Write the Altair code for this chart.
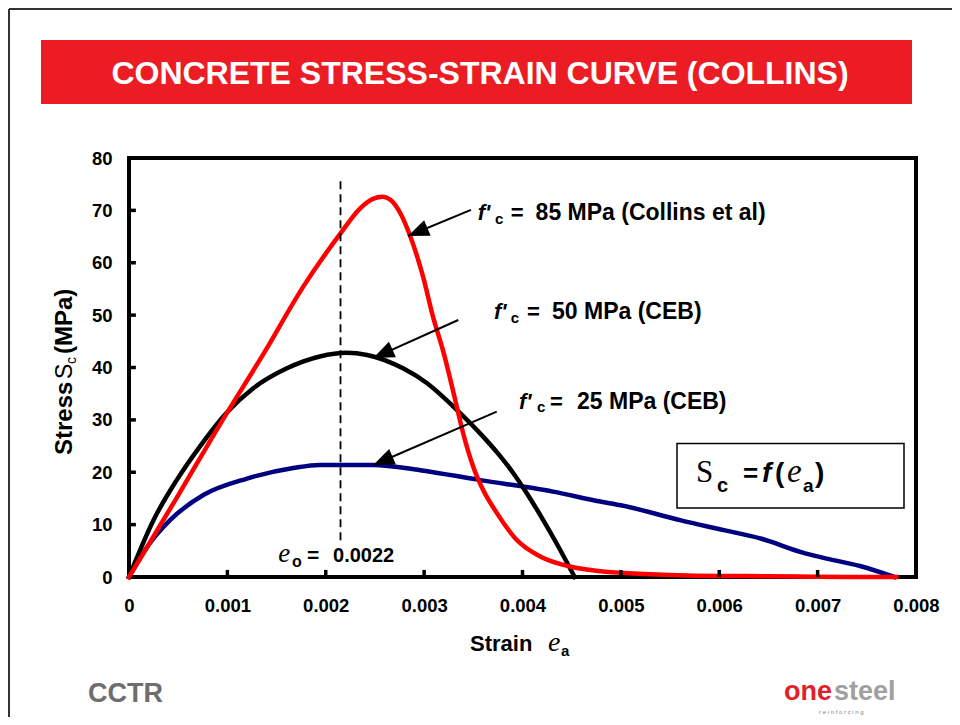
import math
import altair as alt
import pandas as pd

# ---------------- data ----------------
red_strain = [0, 0.0002, 0.0005, 0.00093, 0.00137, 0.00177, 0.00215, 0.00235, 0.00248, 0.00258,
              0.00266, 0.00276, 0.00286, 0.00299, 0.00309, 0.0032, 0.0033, 0.0034, 0.0035, 0.0036,
              0.00374, 0.00394, 0.00418, 0.00448, 0.00475, 0.0050, 0.0055, 0.0060, 0.0065, 0.0070, 0.0078]
red_stress = [0, 6.2, 15.6, 29.3, 42.7, 55.4, 65.6, 70.4, 72.2, 72.6,
              72.0, 69.4, 65.0, 57.3, 49.7, 42.7, 35.1, 27.2, 21.0, 16.6,
              12.2, 7.1, 3.9, 2.0, 1.2, 0.8, 0.4, 0.2, 0.15, 0.05, 0.0]

black_strain = [0, 0.00025, 0.000485, 0.00072, 0.00099, 0.00126, 0.0016, 0.00194, 0.00221, 0.00242,
                0.00279, 0.00303, 0.0033, 0.0036, 0.00375, 0.0039, 0.00405, 0.0042, 0.00435, 0.00453]
black_stress = [0, 10.9, 18.5, 24.9, 31.3, 36.0, 39.8, 42.1, 42.8, 42.4,
                39.8, 37.0, 32.5, 26.8, 23.6, 20.0, 15.8, 11.2, 6.3, 0]

blue_strain = [0, 0.00021, 0.00042, 0.00076, 0.0012, 0.00167, 0.00194, 0.00248, 0.00296, 0.00357,
               0.00431, 0.00479, 0.0050, 0.00561, 0.00606, 0.00643, 0.00684, 0.00705, 0.00743, 0.00778]
blue_stress = [0, 6.4, 10.9, 15.7, 18.8, 20.8, 21.4, 21.4, 20.4, 18.5,
               16.3, 14.4, 13.7, 10.8, 8.9, 7.3, 4.7, 3.7, 2.1, 0]

x_ticks = [0, 0.001, 0.002, 0.003, 0.004, 0.005, 0.006, 0.007, 0.008]
y_ticks = [0, 10, 20, 30, 40, 50, 60, 70, 80]

eo_line_strain = 0.00215
eo_line_stress = [7, 76]

# annotation arrows (start near label, tip on the curve)
arrow_start_strain = [0.003476, 0.003347, 0.003738]
arrow_start_stress = [70.1, 49.07, 31.56]
arrow_tip_strain = [0.002836, 0.002483, 0.002483]
arrow_tip_stress = [65.1, 41.8, 21.38]

label_values = ["85 MPa (Collins et al)", "50 MPa (CEB)", "25 MPa (CEB)"]
label_f_strain = [0.003544, 0.003710, 0.003964]
label_c_strain = [0.003720, 0.003880, 0.004147]
label_eq_strain = [0.003880, 0.004046, 0.004280]
label_val_strain = [0.004133, 0.004300, 0.004554]
label_stress = [68.16, 49.20, 32.17]
label_sub_stress = [67.40, 48.50, 31.50]

TITLE = "CONCRETE STRESS-STRAIN CURVE (COLLINS)"

# ---------------- layout ----------------
W, H = 787, 419
XMAX, YMAX = 0.008, 80
SANS = "Liberation Sans, Arial, sans-serif"
SERIF = "Liberation Serif, Times New Roman, serif"
NARROW = "Liberation Sans Narrow, Arial Narrow, Liberation Sans, sans-serif"
ONE = pd.DataFrame({"k": [0]})

xs = alt.Scale(domain=[0, XMAX], nice=False, zero=False)
ys = alt.Scale(domain=[0, YMAX], nice=False, zero=False)

xaxis = alt.Axis(values=x_ticks, format="~g", title=None, domain=False, ticks=False, grid=False,
                 labelFontSize=18.5, labelFontWeight="bold", labelPadding=19, labelFlush=False,
                 labelColor="black", labelFont=SANS)
yaxis = alt.Axis(values=y_ticks, format="d", title=None, domain=False, ticks=False, grid=False,
                 labelFontSize=18.5, labelFontWeight="bold", labelPadding=17, labelFlush=False,
                 labelColor="black", labelFont=SANS)


def txt(s, x, y, size, weight="bold", style="normal", font=SANS, color="black",
        align="left", baseline="alphabetic", angle=None, px=True):
    kw = dict(text=s, fontSize=size, fontWeight=weight, fontStyle=style, font=font,
              color=color, align=align, baseline=baseline)
    if angle is not None:
        kw["angle"] = angle
    if px:
        enc = dict(x=alt.value(x), y=alt.value(y))
    else:
        enc = dict(x=alt.datum(x), y=alt.datum(y))
    return alt.Chart(ONE).mark_text(**kw).encode(**enc)


layers = []

# slide border and red title banner
layers.append(alt.Chart(ONE).mark_rule(color="#333333", strokeWidth=2).encode(
    x=alt.value(-120), y=alt.value(-149), y2=alt.value(559)))
layers.append(alt.Chart(ONE).mark_rule(color="#333333", strokeWidth=2).encode(
    x=alt.value(-120), x2=alt.value(823), y=alt.value(-149)))
layers.append(alt.Chart(ONE).mark_rect(color="#ec1c24").encode(
    x=alt.value(-88), x2=alt.value(783), y=alt.value(-118), y2=alt.value(-54)))
layers.append(txt(TITLE, 351, -74, 32, color="white", align="center"))


def curve(strain, stress, color):
    df = pd.DataFrame({"strain": strain, "stress": stress})
    return alt.Chart(df).mark_line(color=color, strokeWidth=4.5, interpolate="monotone",
                                   strokeCap="square").encode(
        x=alt.X("strain:Q", scale=xs, axis=xaxis),
        y=alt.Y("stress:Q", scale=ys, axis=yaxis),
    )


layers.append(curve(blue_strain, blue_stress, "#000080"))
layers.append(curve(black_strain, black_stress, "black"))
layers.append(curve(red_strain, red_stress, "#ff0000"))

# inward ticks
xt = pd.DataFrame({"strain": x_ticks[1:-1]})
layers.append(alt.Chart(xt).mark_rule(color="black", strokeWidth=3.5).encode(
    x=alt.X("strain:Q", scale=xs), y=alt.datum(0), y2=alt.datum(1.35)))
yt = pd.DataFrame({"stress": y_ticks[1:-1]})
layers.append(alt.Chart(yt).mark_rule(color="black", strokeWidth=3.5).encode(
    y=alt.Y("stress:Q", scale=ys), x=alt.datum(0), x2=alt.datum(0.00007)))

# dashed e0 line
layers.append(alt.Chart(ONE).mark_rule(color="black", strokeWidth=1.8, strokeDash=[8, 5]).encode(
    x=alt.datum(eo_line_strain), y=alt.datum(eo_line_stress[0]), y2=alt.datum(eo_line_stress[1])))

# arrows
arr = pd.DataFrame({"x": arrow_start_strain, "y": arrow_start_stress,
                    "x2": arrow_tip_strain, "y2": arrow_tip_stress})
ppx, ppy = W / XMAX, H / YMAX
arr["ang"] = [(math.degrees(math.atan2(-(b2 - b1) * ppy, (a2 - a1) * ppx))) % 360
              for a1, b1, a2, b2 in zip(arr.x, arr.y, arr.x2, arr.y2)]
layers.append(alt.Chart(arr).mark_rule(color="black", strokeWidth=2).encode(
    x=alt.X("x:Q", scale=xs), y=alt.Y("y:Q", scale=ys), x2="x2:Q", y2="y2:Q"))
layers.append(alt.Chart(arr).mark_point(
    shape="M0,0L-2.1,-0.85L-2.1,0.85Z", filled=True, color="black", opacity=1, size=400,
    strokeWidth=0).encode(
    x=alt.X("x2:Q", scale=xs), y=alt.Y("y2:Q", scale=ys),
    angle=alt.Angle("ang:Q", scale=None)))

# curve labels
for i in range(3):
    layers.append(txt("f'", label_f_strain[i], label_stress[i], 22, style="italic", px=False))
    layers.append(txt("c", label_c_strain[i], label_sub_stress[i], 15, px=False))
    layers.append(txt("=", label_eq_strain[i], label_stress[i], 22, px=False))
    layers.append(txt(label_values[i], label_val_strain[i], label_stress[i], 23, px=False))

# e0 label
layers.append(txt("e", 0.001518, 2.86, 27, weight="normal", style="italic", font=SERIF, px=False))
layers.append(txt("o", 0.001657, 1.91, 16, px=False))
layers.append(txt("=", 0.001809, 2.86, 21, px=False))
layers.append(txt("0.0022", 0.002074, 2.86, 20, px=False))

# equation box
layers.append(alt.Chart(ONE).mark_rect(fill="white", stroke="black", strokeWidth=1.5).encode(
    x=alt.value(548), x2=alt.value(775), y=alt.value(285.5), y2=alt.value(350)))
layers.append(txt("S", 567, 324, 31, weight="normal", font=SERIF))
layers.append(txt("c", 588, 334, 20))
layers.append(txt("=", 614, 324, 26))
layers.append(txt("f", 633, 324, 28, style="italic"))
layers.append(txt("(", 646, 324, 28))
layers.append(txt("e", 658, 324, 33, weight="normal", style="italic", font=SERIF))
layers.append(txt("a", 674, 334, 19))
layers.append(txt(")", 686, 324, 28))

# axis titles
layers.append(txt("Strain", 341, 493, 22))
layers.append(txt("e", 419, 493, 28, weight="normal", style="italic", font=SERIF))
layers.append(txt("a", 432, 498, 15))
layers.append(txt("Stress", -57, 297, 24, angle=270))
layers.append(txt("S", -57, 221, 23, weight="normal", angle=270))
layers.append(txt("c", -53, 206, 14, weight="normal", angle=270))
layers.append(txt("(MPa)", -57, 196, 24, angle=270))

# logos
layers.append(txt("CCTR", -41, 544, 27, font=NARROW, color="#6e6e6e"))
layers.append(txt("one", 655, 542, 27, font=NARROW, color="#e31e2d"))
layers.append(txt("steel", 705, 542, 27, font=NARROW, color="#a0a0a0"))
layers.append(txt("r e i n f o r c i n g", 690, 556, 6, weight="normal", color="#808080"))

chart = alt.layer(*layers).properties(
    width=W, height=H,
    padding={"left": 121, "top": 150, "right": 36, "bottom": 140},
    autosize=alt.AutoSizeParams(type="none"),
).configure(font=SANS, background="white").configure_view(stroke="black", strokeWidth=4)

chart.save("out.html", embed_options={"renderer": "svg", "actions": False})
